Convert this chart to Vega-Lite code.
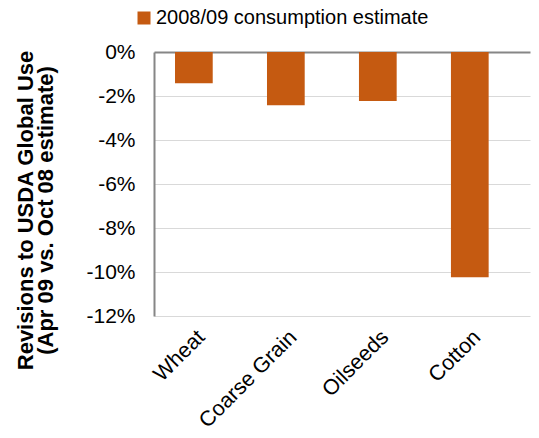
{
  "$schema": "https://vega.github.io/schema/vega-lite/v6.json",
  "width": 376,
  "height": 264,
  "autosize": {"type": "none"},
  "padding": {"left": 154, "top": 52, "right": 9, "bottom": 122},
  "background": "white",
  "config": {
    "font": "Liberation Sans",
    "view": {"stroke": null}
  },
  "data": {
    "values": [
      {"crop": "Wheat", "revision": -0.0142, "series": "2008/09 consumption estimate"},
      {"crop": "Coarse Grain", "revision": -0.0242, "series": "2008/09 consumption estimate"},
      {"crop": "Oilseeds", "revision": -0.0223, "series": "2008/09 consumption estimate"},
      {"crop": "Cotton", "revision": -0.1024, "series": "2008/09 consumption estimate"}
    ]
  },
  "mark": {"type": "bar"},
  "encoding": {
    "x": {
      "field": "crop",
      "type": "nominal",
      "sort": null,
      "scale": {"paddingInner": 0.59, "paddingOuter": 0.339, "align": 0.337},
      "axis": {
        "title": null,
        "domain": false,
        "ticks": false,
        "labelAngle": -45,
        "labelFontSize": 21.5,
        "labelColor": "#000000",
        "labelPadding": 10
      }
    },
    "y": {
      "field": "revision",
      "type": "quantitative",
      "scale": {"domain": [-0.12, 0], "nice": false},
      "axis": {
        "values": [-0.12, -0.1, -0.08, -0.06, -0.04, -0.02, 0],
        "format": ".0%",
        "labelExpr": "replace(datum.label, '−', '-')",
        "ticks": false,
        "domain": true,
        "domainColor": "#868686",
        "domainWidth": 2,
        "gridColor": {"condition": {"test": "datum.value === 0", "value": "#868686"}, "value": "#D9D9D9"},
        "gridWidth": {"condition": {"test": "datum.value === 0", "value": 2}, "value": 1},
        "labelFontSize": 21,
        "labelColor": "#000000",
        "labelPadding": 19,
        "title": ["Revisions to USDA Global Use", "(Apr 09 vs. Oct 08 estimate)"],
        "titleFontSize": 22,
        "titleFontWeight": "bold",
        "titleColor": "#000000",
        "titleLineHeight": 20,
        "titleX": -122,
        "titleY": 158,
        "titleAlign": "center",
        "titleBaseline": "alphabetic"
      }
    },
    "color": {
      "field": "series",
      "type": "nominal",
      "scale": {"range": ["#C55A11"]},
      "legend": {
        "title": null,
        "orient": "none",
        "legendX": -20,
        "legendY": -44,
        "symbolType": "square",
        "symbolSize": 169,
        "symbolStrokeWidth": 0,
        "labelFontSize": 20,
        "labelColor": "#000000",
        "labelOffset": 2,
        "labelLimit": 400,
        "padding": 0
      }
    }
  }
}
